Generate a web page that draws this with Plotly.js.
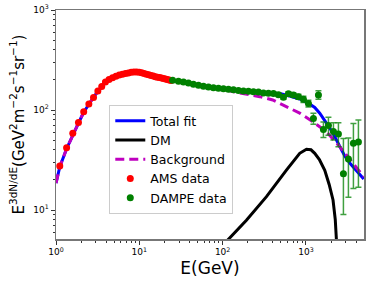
<!DOCTYPE html>
<html>
<head>
<meta charset="utf-8">
<script src="https://cdn.plot.ly/plotly-3.0.1.min.js"></script>
<style>html,body{margin:0;padding:0;background:#fff;}#chart{width:374px;height:282px;}</style>
</head>
<body>
<div id="chart"></div>
<script>
// AMS data
var amsE = [1.11,1.34,1.59,1.86,2.15,2.48,2.82,3.18,3.54,3.92,4.33,4.77,5.24,5.74,6.27,6.82,7.39,8.0,8.62,9.28,9.97,10.68,11.42,12.19,13.0,13.83,14.7,15.6,16.52,17.48,18.48,19.51,20.58,21.69,22.83,24.02];
var amsY = [27.5,42,58.5,75,96,115,133,155,172,190,202,210,218,224,228,232,235,238,240,240,239,236,232,228,225,221,219,215,213,211,209,207,204,202,200,197];

// DAMPE data
var dampeE = [25.1,29.5,33.9,38.9,44.6,51.3,58.9,67.6,77.6,89.1,102.3,117.5,134.9,154.9,177.8,204.2,234.4,269.2,309.0,354.8,407.4,467.7,537.0,616.6,707.9,812.8,933.3,1071.5,1230.3,1412.5,1621.8,1862.1,2138.0,2454.7,2818.4,3235.9,3715.4,4265.8];
var dampeY = [198,194,190,186,181,177,173,170,167,165,163,161,159,157,155,154,152,151,148,147,146,142,134,145,141,136,128,116,82,141,64,70,61,57.5,23,32.4,46.4,47.9];
var dampeErrUp = [3,3,3,3,3,3,3,3,3,3,3,3,3,3,3,3,3,4,4,4,5,5,6,7,7,8,9,9,11,15,12,14.5,13.6,17,29,20,27,31.5];
var dampeErrDn = [3,3,3,3,3,3,3,3,3,3,3,3,3,3,3,3,3,4,4,4,5,5,6,7,7,8,9,9,10,13,11,14,11,14.5,14,19,30,31];

// Total fit curve
var totE = [1,1.11,1.34,1.59,1.86,2.15,2.48,2.82,3.18,3.54,4,4.77,5.74,6.82,8,9.28,10.68,12.19,13.83,15.6,18.48,22,26,35,53,80,100,160,250,400,500,639,842,1109,1275,1465,1683,1932,2218,2547,2924,3357,4074,4944];
var totY = [18.6,27,41,57,74,95,115,134,154,172,193,210,224,232,237,238,234,228,221,215,209,201,195,185,175,167,164,157,152,148,145,138,129,115,106,93,79,66,54,42.7,34.7,29.5,24.5,20.4];

// Background curve
var bgE = [1,1.11,1.34,1.59,1.86,2.15,2.48,2.82,3.18,3.54,4,4.77,5.74,6.82,8,9.28,10.68,12.19,13.83,15.6,18.48,22,26,35,53,80,100,160,279,399,583,842,1208,1762,2545,3648,4944];
var bgY = [18.6,27,41,57,74,95,115,134,154,172,193,210,224,232,237,238,234,228,221,215,209,201,195,185,174,165,161,148,136,126,108,93,76.4,60.7,43,29.5,21.5];

// DM curve
var dmE = [100,115,193,336,583,842,1014,1150,1276,1450,1683,1900,2115,2250,2323,2360];
var dmY = [4.2,5,7.9,13.6,25,36.9,40.5,40,36.9,32,25,18,12.6,8,5,3];

// Tick labels
var xTickVals = [1,10,100,1000];
var xTickText = ['10<sup>0</sup>','10<sup>1</sup>','10<sup>2</sup>','10<sup>3</sup>'];
var yTickVals = [10,100,1000];
var yTickText = ['10<sup>1</sup>','10<sup>2</sup>','10<sup>3</sup>'];

function minorVals(lo, hi) {
  var v = [];
  for (var d = lo; d <= hi; d *= 10) for (var k = 2; k <= 9; k++) v.push(d * k);
  return v;
}

var FONT = 'DejaVu Sans, sans-serif';

var traces = [
  {x: totE, y: totY, mode: 'lines', name: 'Total fit', line: {color: '#0000ff', width: 3}},
  {x: dmE, y: dmY, mode: 'lines', name: 'DM', line: {color: '#000000', width: 3}},
  {x: bgE, y: bgY, mode: 'lines', name: 'Background', line: {color: '#bf00bf', width: 3, dash: '9px,5px'}},
  {x: amsE, y: amsY, mode: 'markers', name: 'AMS data', marker: {color: '#ff0000', size: 7}, cliponaxis: true},
  {x: dampeE, y: dampeY, mode: 'markers', name: 'DAMPE data', marker: {color: '#008000', size: 7},
   error_y: {type: 'data', symmetric: false, array: dampeErrUp, arrayminus: dampeErrDn, color: 'rgba(0,128,0,0.75)', thickness: 1.5, width: 3},
   cliponaxis: true}
];

var layout = {
  width: 374, height: 282,
  margin: {l: 56, r: 10, t: 10, b: 43},
  paper_bgcolor: '#fff', plot_bgcolor: '#fff',
  showlegend: true,
  font: {family: FONT, color: '#000'},
  xaxis: {
    type: 'log', range: [0, 3.697],
    tickmode: 'array', tickvals: xTickVals, ticktext: xTickText,
    ticks: 'outside', ticklen: 4, tickwidth: 1, tickcolor: '#333',
    tickfont: {size: 9, family: FONT},
    showgrid: false, zeroline: false,
    showline: true, linecolor: '#777', linewidth: 1.5, mirror: true,
    minor: {tickmode: 'array', tickvals: minorVals(1, 1000), ticks: 'outside', ticklen: 2, tickcolor: '#333', showgrid: false},
    title: {text: 'E(GeV)', font: {size: 17, family: FONT}, standoff: 6}
  },
  yaxis: {
    type: 'log', range: [0.71, 3],
    tickmode: 'array', tickvals: yTickVals, ticktext: yTickText,
    ticks: 'outside', ticklen: 4, tickwidth: 1, tickcolor: '#333',
    tickfont: {size: 9, family: FONT},
    showgrid: false, zeroline: false,
    showline: true, linecolor: '#777', linewidth: 1.5, mirror: true,
    minor: {tickmode: 'array', tickvals: minorVals(1, 100), ticks: 'outside', ticklen: 2, tickcolor: '#333', showgrid: false},
    title: {text: 'E<sup>3dN/dE</sup>(GeV<sup>2</sup>m<sup>−2</sup>s<sup>−1</sup>sr<sup>−1</sup>)', font: {size: 15, family: FONT}, standoff: 5}
  },
  legend: {
    x: 0.173, y: 0.585, xanchor: 'left', yanchor: 'top',
    bgcolor: '#fff', bordercolor: '#ccc', borderwidth: 1,
    font: {size: 12.5, family: FONT}
  }
};

Plotly.newPlot('chart', traces, layout, {staticPlot: true, displayModeBar: false});
</script>
</body>
</html>
